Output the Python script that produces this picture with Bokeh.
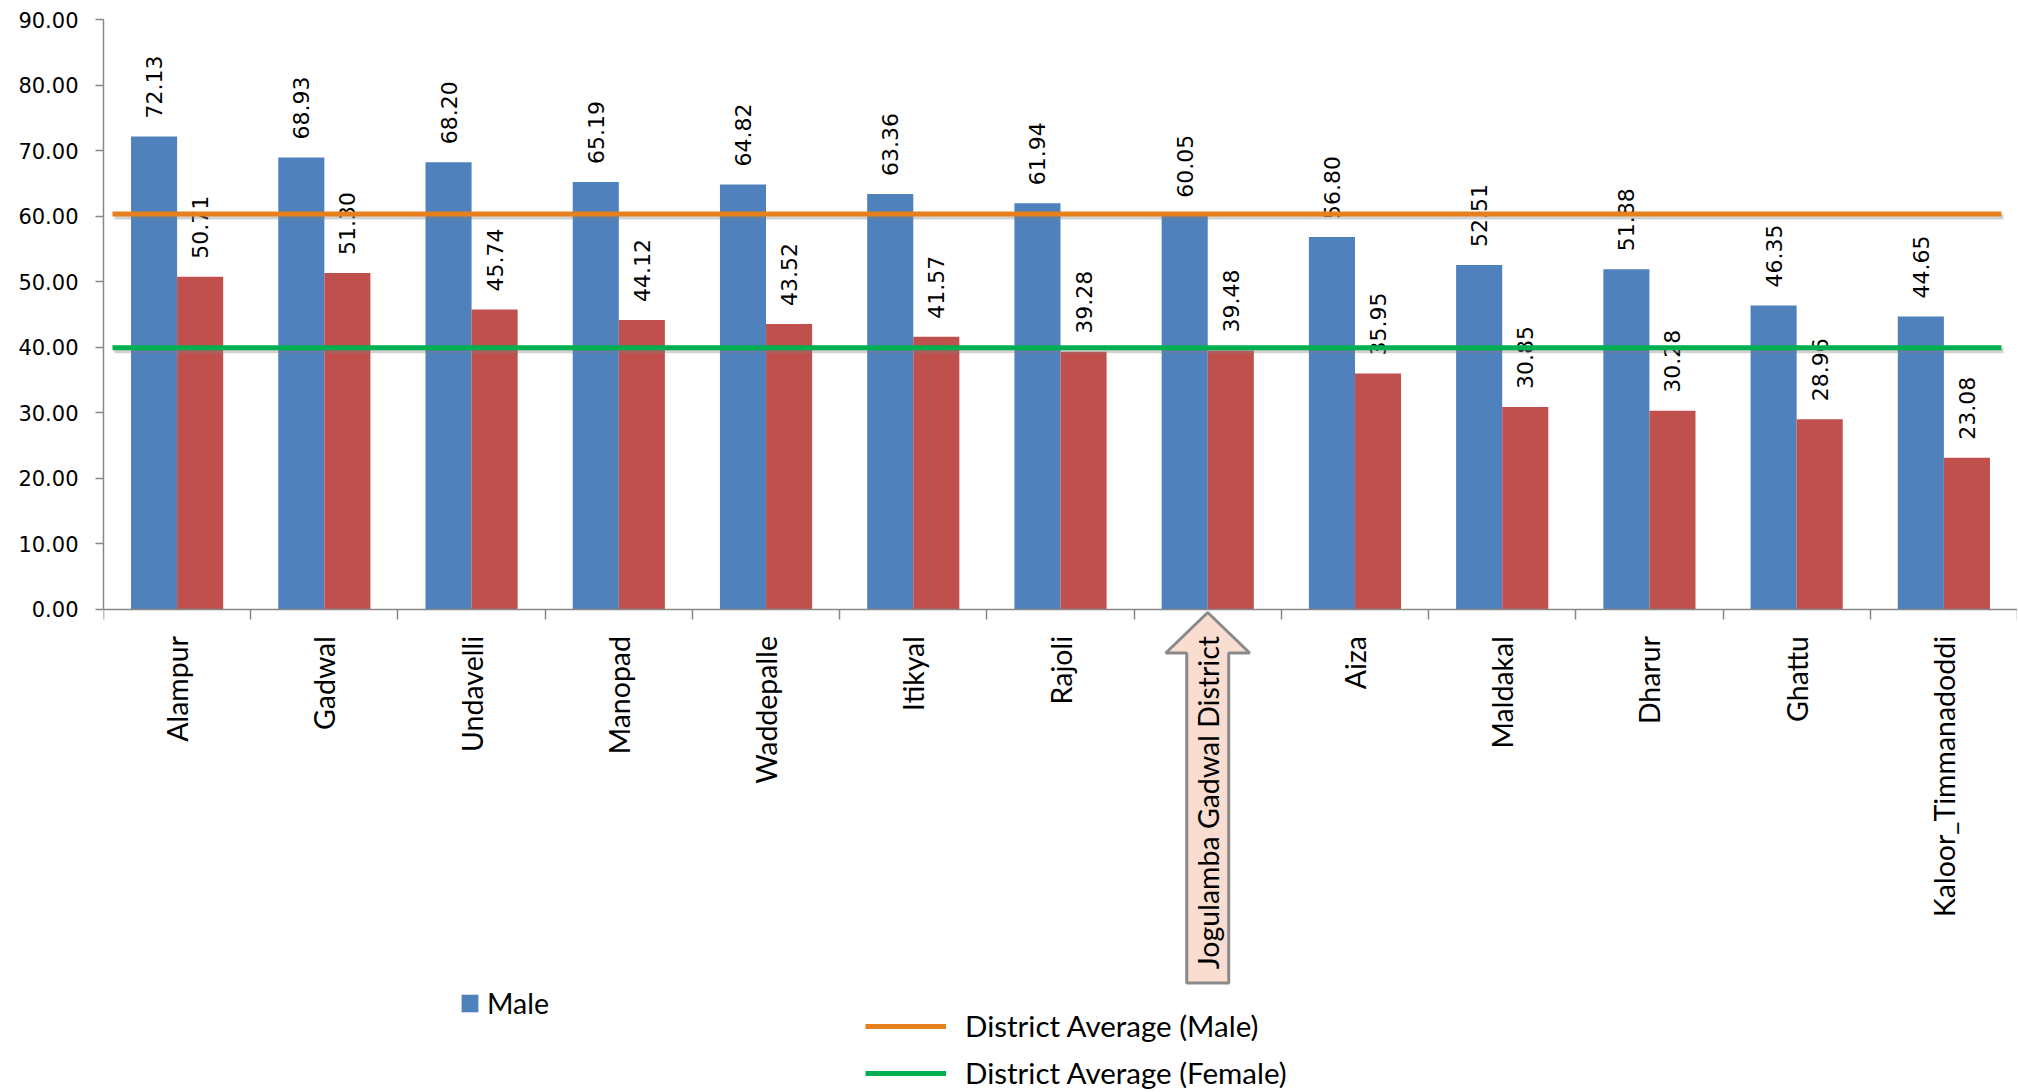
import math
from bokeh.plotting import figure
from bokeh.models import (Range1d, FixedTicker, NumeralTickFormatter, PolyAnnotation,
                          Legend, LegendItem)
from bokeh.embed import file_html
from bokeh.resources import INLINE
from bokeh.core.properties import value

# ---------------- data ----------------
categories = ["Alampur", "Gadwal", "Undavelli", "Manopad", "Waddepalle", "Itikyal", "Rajoli",
              "Jogulamba Gadwal District", "Aiza", "Maldakal", "Dharur", "Ghattu",
              "Kaloor_Timmanadoddi"]
male = [72.13, 68.93, 68.20, 65.19, 64.82, 63.36, 61.94, 60.05, 56.80, 52.51, 51.88, 46.35, 44.65]
female = [50.71, 51.30, 45.74, 44.12, 43.52, 41.57, 39.28, 39.48, 35.95, 30.85, 30.28, 28.96, 23.08]
district_avg_male = 60.3
district_avg_female = 39.9
y_ticks = [0, 10, 20, 30, 40, 50, 60, 70, 80, 90]
highlight = "Jogulamba Gadwal District"

# ---------------- style ----------------
BLUE = "#4F81BD"
RED = "#C0504D"
ORANGE = "#E5801C"
GREEN = "#00B050"
AXIS = "#878787"
LABEL_FONT = "Lato"
NUM_FONT = "DejaVu Sans"

W, H = 2017, 1090
BORDER_L, BORDER_T = 103, 19
CHART_H = 589.5            # pixel height of the 0..90 band
frame_h = H - BORDER_T
y_max = y_ticks[-1]
ppu = CHART_H / y_max      # pixels per y unit
y_min = -(frame_h - CHART_H) / ppu

n = len(categories)
centers = [i + 1 for i in range(n)]
bounds = [i + 0.5 for i in range(n + 1)]
bar_w = 0.313
cat_px = (W - BORDER_L) / n

p = figure(width=W, height=H, output_backend="svg", toolbar_location=None,
           x_range=Range1d(0.5, n + 0.5), y_range=Range1d(y_min, y_max),
           min_border_left=BORDER_L, min_border_right=0, min_border_top=BORDER_T,
           min_border_bottom=0)
p.outline_line_color = None
p.xgrid.visible = False
p.ygrid.visible = False
p.background_fill_color = "white"

# highlight arrow behind the category label
hi = categories.index(highlight)
c = centers[hi]
head_hw = 42 / cat_px
shaft_hw = 21 / cat_px
tip_y = -3.5 / ppu
head_y = -44 / ppu
bot_y = -374 / ppu
arrow = PolyAnnotation(
    xs=[c, c + head_hw, c + shaft_hw, c + shaft_hw, c - shaft_hw, c - shaft_hw, c - head_hw],
    ys=[tip_y, head_y, head_y, bot_y, bot_y, head_y, head_y],
    fill_color="#F9DDD1", fill_alpha=1.0, line_color="#8A8A8A", line_alpha=1.0,
    line_width=3, level="underlay")
p.add_layout(arrow)

# bars
male_x = [ci - bar_w / 2 for ci in centers]
female_x = [ci + bar_w / 2 for ci in centers]
r_male = p.vbar(x=male_x, top=male, width=bar_w, fill_color=BLUE, line_color=None)
r_female = p.vbar(x=female_x, top=female, width=bar_w, fill_color=RED, line_color=None)

# data labels
for xs, vals in ((male_x, male), (female_x, female)):
    p.text(x=xs, y=vals, text=[f"{v:.2f}" for v in vals], angle=math.pi / 2,
           text_align="left", text_baseline="middle", y_offset=-18,
           text_font=value(NUM_FONT), text_font_size="22px", text_color="black")

# district average lines with shadow
x_start = 0.5 + 9 / cat_px
x_end = n + 0.5 - 16 / cat_px
sh = 3 / ppu
for avg in (district_avg_male, district_avg_female):
    p.segment(x0=[x_start + 2 / cat_px], y0=[avg - sh], x1=[x_end + 2 / cat_px], y1=[avg - sh],
              line_color="#7f7f7f", line_alpha=0.35, line_width=5)
r_avg_m = p.segment(x0=[x_start], y0=[district_avg_male], x1=[x_end], y1=[district_avg_male],
                    line_color=ORANGE, line_width=5)
r_avg_f = p.segment(x0=[x_start], y0=[district_avg_female], x1=[x_end], y1=[district_avg_female],
                    line_color=GREEN, line_width=5)

# axes
p.yaxis.bounds = (0, y_max)
p.yaxis.ticker = FixedTicker(ticks=y_ticks)
p.yaxis.formatter = NumeralTickFormatter(format="0.00")
p.yaxis.axis_line_color = AXIS
p.yaxis.axis_line_width = 1.5
p.yaxis.major_tick_line_color = AXIS
p.yaxis.major_tick_line_width = 1.5
p.yaxis.major_tick_out = 8
p.yaxis.major_tick_in = 0
p.yaxis.minor_tick_line_color = None
p.yaxis.major_label_standoff = 17
p.yaxis.major_label_text_font = NUM_FONT
p.yaxis.major_label_text_font_size = "21px"
p.yaxis.major_label_text_color = "black"

p.xaxis.fixed_location = 0
p.xaxis.ticker = FixedTicker(ticks=centers, minor_ticks=bounds)
p.xaxis.major_label_overrides = {ci: lab for ci, lab in zip(centers, categories)}
p.xaxis.major_label_orientation = math.pi / 2
p.xaxis.axis_line_color = AXIS
p.xaxis.axis_line_width = 1.5
p.xaxis.major_tick_line_color = None
p.xaxis.major_tick_out = 0
p.xaxis.major_tick_in = 0
p.xaxis.minor_tick_line_color = AXIS
p.xaxis.minor_tick_line_width = 1.5
p.xaxis.minor_tick_out = 10
p.xaxis.minor_tick_in = 0
p.xaxis.major_label_standoff = 17
p.xaxis.major_label_text_font = LABEL_FONT
p.xaxis.major_label_text_font_size = "28.5px"
p.xaxis.major_label_text_color = "black"

# legends
leg_male = Legend(items=[LegendItem(label="Male", renderers=[r_male])],
                  location=(356, 70), orientation="vertical")
leg_lines = Legend(items=[LegendItem(label="District Average (Male)", renderers=[r_avg_m]),
                          LegendItem(label="District Average (Female)", renderers=[r_avg_f])],
                   location=(762, 0), orientation="vertical")
for lg in (leg_male, leg_lines):
    lg.border_line_color = None
    lg.background_fill_alpha = 0
    lg.padding = 0
    lg.margin = 0
    lg.label_text_font = LABEL_FONT
    lg.label_text_color = "black"
leg_male.label_text_font_size = "28.5px"
leg_lines.label_text_font_size = "29.5px"
leg_male.glyph_width = 21
leg_male.glyph_height = 22
leg_male.label_standoff = 7
leg_lines.glyph_width = 81
leg_lines.glyph_height = 26
leg_lines.label_standoff = 19
leg_lines.spacing = 12
p.add_layout(leg_male, "center")
p.add_layout(leg_lines, "center")

open("out.html", "w").write(file_html(p, INLINE))
